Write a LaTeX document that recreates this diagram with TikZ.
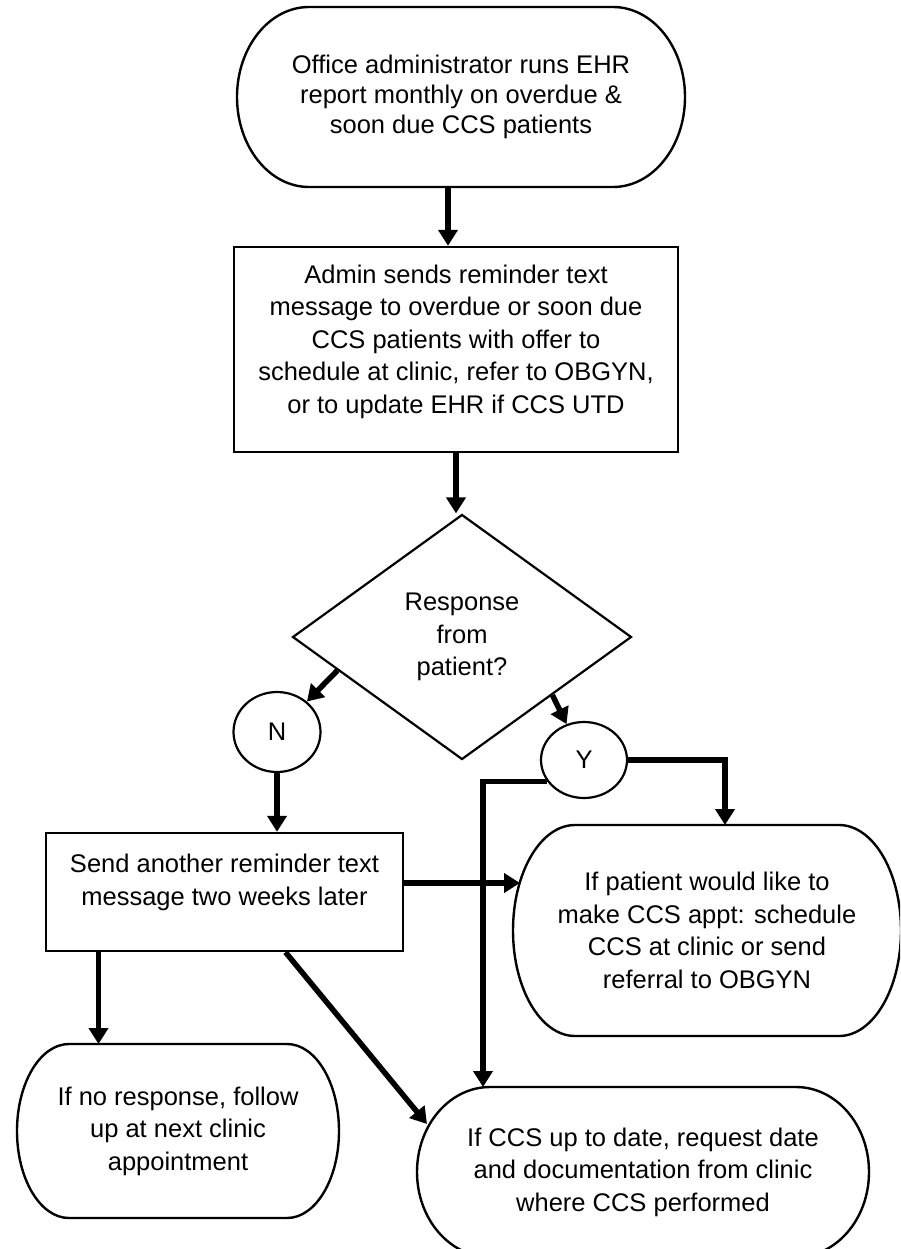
\documentclass[tikz,border=0pt]{standalone}
\usepackage{fontspec}
\setmainfont{Liberation Sans}
\usetikzlibrary{arrows.meta,shapes.geometric,calc}

% outline of a terminator: node, x radius, y radius
\newcommand{\termshape}[3]{%
  \draw[shapeline] ([xshift=#2]#1.north west) -- ([xshift=-#2]#1.north east)
    arc[start angle=90, end angle=-90, x radius=#2, y radius=#3]
    -- ([xshift=#2]#1.south west)
    arc[start angle=270, end angle=90, x radius=#2, y radius=#3] -- cycle;}

\begin{document}
\begin{tikzpicture}[x=1pt, y=-1pt, font=\fontsize{25.5pt}{32.5pt}\selectfont,
  shapeline/.style={line width=2.4pt},
  termnode/.style={rectangle, align=center, inner sep=0pt, outer sep=0pt},
  procbox/.style={draw, line width=2.4pt, rectangle, align=center, inner sep=0pt},
  decbox/.style={draw, line width=2.2pt, diamond, align=center, inner sep=0pt},
  yesno/.style={draw, line width=2.2pt, ellipse, inner sep=0pt},
  flow/.style={line width=5.5pt, -{Triangle[length=16pt,width=19pt]}}]
\useasboundingbox (0,0) rectangle (900,1249);
\clip (0,0) rectangle (900,1249);

\node[termnode, minimum width=448pt, minimum height=180pt,
  font=\fontsize{25.5pt}{30pt}\selectfont] (start) at (461,97)
  {Office administrator runs EHR\\report monthly on overdue \&\\soon due CCS patients};
\termshape{start}{72pt}{90pt}

\node[procbox, minimum width=444pt, minimum height=205pt] (adm) at (456,349.5)
  {Admin sends reminder text\\message to overdue or soon due\\CCS patients with offer to\\schedule at clinic, refer to OBGYN,\\or to update EHR if CCS UTD\\[-12pt]\mbox{}};

\node[decbox, minimum width=339pt, minimum height=245pt] (dec) at (462,637)
  {Response\\from\\patient?};

\node[yesno, minimum width=87pt, minimum height=80pt] (nc) at (277,732) {N};
\node[yesno, minimum width=86pt, minimum height=76pt] (yc) at (584,760) {Y};

\node[procbox, minimum width=357pt, minimum height=118pt] (snd) at (224.5,892)
  {Send another reminder text\\message two weeks later\\[-8pt]\mbox{}};

\node[termnode, minimum width=388pt, minimum height=211pt] (rtA) at (707,930.5)
  {If patient would like to\\make CCS appt: schedule\\CCS at clinic or send\\referral to OBGYN};
\termshape{rtA}{62pt}{105.5pt}

\node[termnode, minimum width=452pt, minimum height=170pt] (rtB) at (643,1172)
  {If CCS up to date, request date\\and documentation from clinic\\where CCS performed};
\termshape{rtB}{73pt}{85pt}

\node[termnode, minimum width=322pt, minimum height=174pt] (rtC) at (178,1131)
  {If no response, follow\\up at next clinic\\appointment};
\termshape{rtC}{52pt}{87pt}

\coordinate (s1) at ([xshift=-13pt]start.south);
\draw[flow] (s1) -- (s1 |- adm.north);
\draw[flow] (adm.south) -- (adm.south |- dec.north);
\draw[flow] ($(dec.west)!0.27!(dec.south)$) -- (nc);
\draw[flow] ($(dec.east)!0.47!(dec.south)$) -- (yc);
\draw[flow] (nc) -- (nc |- snd.north);
\draw[flow] (yc.east) -| ([xshift=18pt]rtA.north);
\draw[flow] (yc.210) -| ([xshift=-160pt]rtB.north);
\coordinate (aIn) at (520,883);
\draw[flow] (snd.east |- aIn) -- (aIn);
\coordinate (sndL) at ([xshift=-126pt]snd.south);
\draw[flow] (sndL) -- (sndL |- rtC.north);
\coordinate (bIn) at (427,1124);
\draw[flow] ([xshift=61pt]snd.south) -- (bIn);
\end{tikzpicture}
\end{document}
